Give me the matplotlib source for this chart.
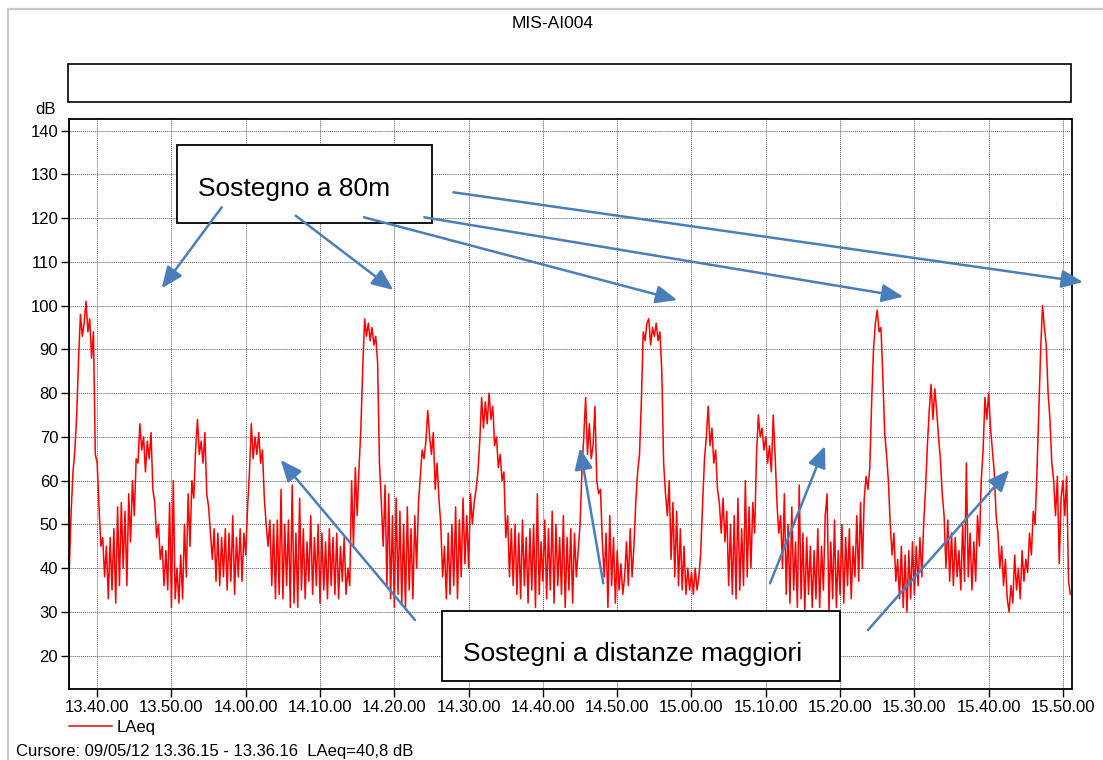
import numpy as np
import pandas as pd
import matplotlib
matplotlib.use("Agg")
import matplotlib.pyplot as plt
import matplotlib.dates as mdates
from matplotlib.patches import Rectangle, FancyArrowPatch
from matplotlib.lines import Line2D

plt.rcParams["font.family"] = ["Liberation Sans", "DejaVu Sans"]

# LAeq samples, one every 15 s from 13.36.15
start = "2012-05-09 13:36:15"
step = "15s"
laeq = [
    40, 53, 62, 67, 75, 88, 98, 93, 96, 101, 94, 97, 88, 94, 66, 64, 54, 45, 47, 38,
    45, 33, 47, 35, 49, 32, 54, 36, 55, 40, 53, 36, 57, 46, 60, 52, 65, 64, 73, 67,
    70, 62, 69, 65, 71, 58, 55, 47, 50, 42, 45, 36, 44, 35, 55, 31, 60, 33, 40, 32,
    43, 33, 50, 38, 57, 45, 60, 56, 67, 74, 66, 69, 64, 71, 57, 54, 48, 42, 49, 37,
    48, 36, 47, 38, 49, 35, 48, 37, 52, 34, 47, 38, 49, 37, 48, 43, 54, 62, 73, 65,
    70, 66, 71, 64, 67, 56, 50, 45, 51, 36, 50, 33, 51, 34, 58, 33, 50, 36, 51, 31,
    59, 32, 48, 31, 56, 35, 49, 33, 46, 37, 52, 34, 47, 36, 50, 32, 48, 35, 46, 33,
    49, 36, 47, 34, 48, 33, 45, 37, 47, 34, 40, 36, 60, 45, 63, 52, 63, 72, 86, 97,
    93, 96, 92, 95, 91, 93, 87, 64, 55, 45, 59, 36, 57, 33, 52, 31, 56, 34, 53, 32,
    50, 31, 54, 35, 49, 33, 52, 40, 55, 61, 67, 65, 69, 76, 70, 66, 71, 58, 64, 56,
    50, 38, 45, 33, 48, 34, 50, 36, 54, 33, 51, 38, 56, 41, 52, 40, 57, 50, 55, 58,
    62, 69, 79, 72, 78, 73, 80, 74, 77, 68, 70, 63, 66, 60, 62, 47, 52, 38, 49, 36,
    50, 34, 48, 33, 51, 36, 47, 32, 49, 35, 50, 31, 57, 34, 46, 37, 51, 33, 49, 35,
    53, 32, 50, 36, 47, 34, 52, 31, 47, 35, 49, 32, 48, 38, 44, 50, 62, 70, 79, 66,
    73, 65, 68, 77, 60, 57, 58, 46, 38, 48, 31, 52, 36, 47, 32, 44, 35, 41, 34, 38,
    46, 36, 49, 38, 45, 55, 62, 66, 78, 94, 92, 96, 97, 91, 95, 93, 96, 92, 94, 85,
    64, 57, 52, 60, 42, 55, 38, 53, 36, 49, 35, 45, 34, 40, 35, 39, 34, 40, 35, 38,
    44, 55, 65, 70, 77, 68, 72, 64, 67, 58, 55, 48, 56, 46, 53, 36, 50, 34, 52, 33,
    56, 35, 49, 36, 60, 38, 54, 40, 55, 48, 66, 75, 70, 72, 67, 70, 64, 68, 62, 75,
    66, 55, 48, 52, 40, 57, 34, 50, 32, 54, 35, 46, 31, 59, 33, 48, 30, 47, 34, 45,
    31, 44, 33, 49, 31, 45, 35, 52, 57, 30, 46, 33, 51, 31, 44, 34, 50, 32, 47, 36,
    49, 33, 45, 38, 52, 37, 55, 40, 56, 61, 58, 63, 78, 90, 96, 99, 94, 95, 84, 71,
    66, 60, 50, 43, 48, 37, 42, 33, 45, 31, 43, 30, 44, 33, 46, 34, 45, 36, 47, 38,
    50, 58, 68, 76, 82, 74, 81, 76, 70, 65, 57, 52, 40, 51, 37, 48, 36, 47, 38, 44,
    35, 50, 37, 64, 38, 48, 35, 46, 37, 52, 45, 60, 67, 79, 74, 80, 72, 67, 62, 52,
    48, 40, 45, 36, 42, 33, 30, 36, 32, 43, 35, 40, 33, 44, 37, 42, 39, 48, 43, 53,
    50, 62, 76, 90, 100, 95, 91, 80, 74, 64, 60, 52, 61, 41, 56, 60, 52, 61, 37, 34,
]
x_end = "2012-05-09 15:51:13"
y_ticks = list(range(20, 141, 10))

label_80 = "Sostegno a 80m"
label_far = "Sostegni a distanze maggiori"
cursor_text = "Cursore: 09/05/12 13.36.15 - 13.36.16  LAeq=40,8 dB"

times = pd.date_range(start, periods=len(laeq), freq=step)

W, H = 1103, 760


def fx(x):
    return x / W


def fy(y):
    return 1 - y / H


fig = plt.figure(figsize=(W / 100, H / 100), dpi=100)
ax = fig.add_axes([fx(69.3), fy(689.3), (1072 - 69.3) / W, (689.3 - 119.3) / H])

ax.plot(times, laeq, color="#ff0000", lw=1.1, label="LAeq")
ax.axvline(times[0], color="#ff0000", lw=1.3)
ax.set_xlim(times[0], pd.Timestamp(x_end))
ax.set_ylim(12.3, 142.6)
ax.set_yticks(y_ticks)
ax.xaxis.set_major_locator(mdates.MinuteLocator(byminute=range(0, 60, 10)))
ax.xaxis.set_major_formatter(mdates.DateFormatter("%H.%M.%S"))
ax.set_axisbelow(True)
ax.grid(True, color="0.35", linestyle=(0, (1, 1)), lw=0.7)
ax.tick_params(labelsize=12, length=6, width=1, pad=2, colors="black")
for s in ax.spines.values():
    s.set_linewidth(1.3)

ax.legend(loc="center left", bbox_to_anchor=(fx(69), fy(727.7)), bbox_transform=fig.transFigure,
          frameon=False, borderpad=0, borderaxespad=0, handlelength=2.6, handletextpad=0.25, fontsize=12)

# outer frame (top and left only visible)
fig.add_artist(Line2D([fx(8), fx(8), 1], [0, fy(9.3), fy(9.3)], transform=fig.transFigure,
                      color="#c8c8c8", lw=1.6))

fig.text(fx(553), fy(24), "MIS-AI004", ha="center", va="center", fontsize=12.5)
fig.text(fx(56), fy(110), "dB", ha="right", va="center", fontsize=12)
fig.text(fx(16), fy(751.7), cursor_text, ha="left", va="center", fontsize=12)

# empty header box
fig.add_artist(Rectangle((fx(68.3), fy(101.7)), (1070.7 - 68.3) / W, (101.7 - 64.3) / H,
                         transform=fig.transFigure, fill=False, ec="black", lw=1.2))

# annotation boxes
fig.add_artist(Rectangle((fx(177.3), fy(223.3)), (431.7 - 177.3) / W, (223.3 - 145) / H,
                         transform=fig.transFigure, fc="white", ec="black", lw=1.3, zorder=3))
fig.text(fx(198), fy(189), label_80, ha="left", va="center", fontsize=19, zorder=4)
fig.add_artist(Rectangle((fx(441.7), fy(681)), (840 - 441.7) / W, (681 - 611) / H,
                         transform=fig.transFigure, fc="white", ec="black", lw=1.3, zorder=3))
fig.text(fx(462.7), fy(654), label_far, ha="left", va="center", fontsize=19, zorder=4)

arrows = [
    ((221.7, 207.3), (161.7, 288.3)),
    ((295.7, 215.7), (393.3, 290)),
    ((364, 217.3), (677.3, 300)),
    ((424.3, 217.3), (903.3, 296.7)),
    ((453.3, 192.3), (1083, 282)),
    ((415, 620), (280.7, 460)),
    ((603.3, 583.3), (580, 448)),
    ((770, 583.3), (825, 446)),
    ((868, 630), (1009.3, 470)),
]
for (x0, y0), (x1, y1) in arrows:
    fig.add_artist(FancyArrowPatch((fx(x0), fy(y0)), (fx(x1), fy(y1)), transform=fig.transFigure,
                                   arrowstyle="-|>,head_length=1.3,head_width=0.55", mutation_scale=10,
                                   color="#4a7ebb", lw=1.8, shrinkA=0, shrinkB=0, zorder=5))

fig.savefig("out.png", dpi=100)
